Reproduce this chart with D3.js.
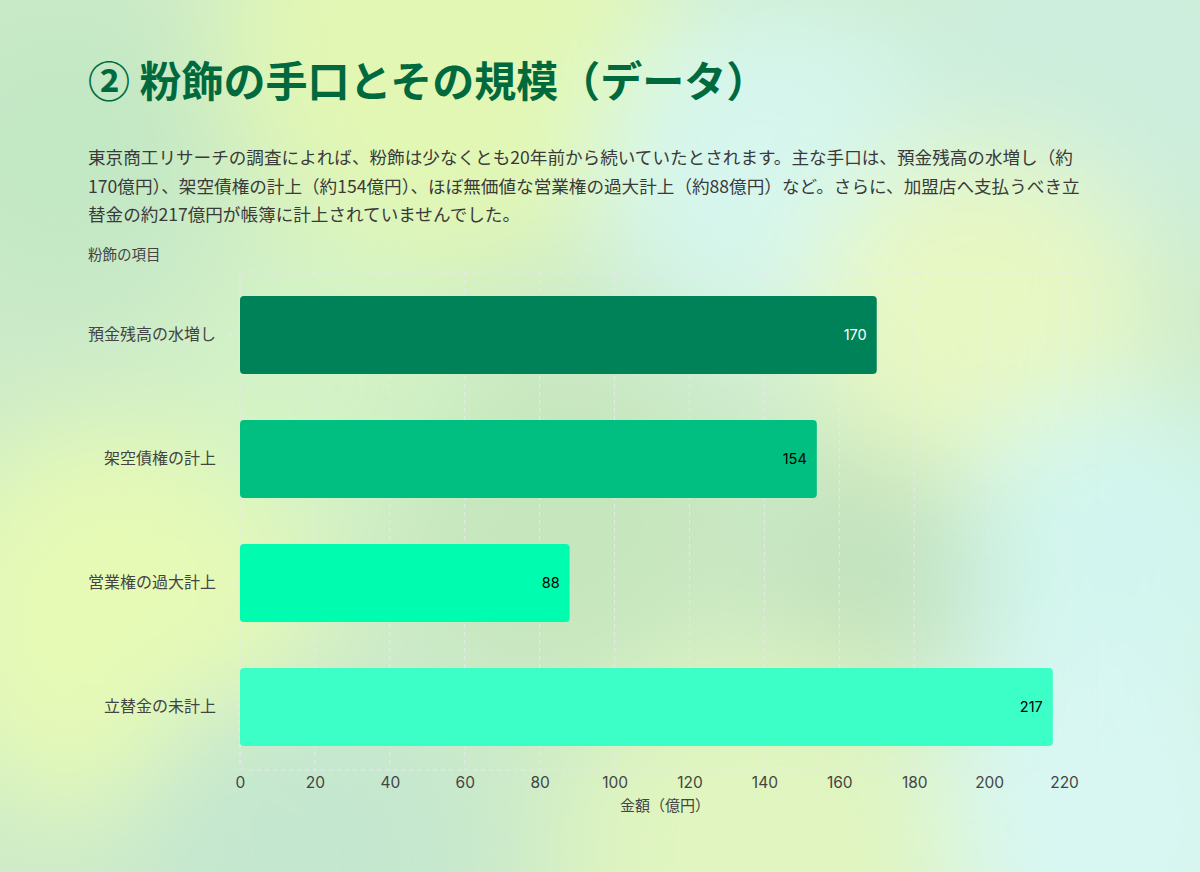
<!DOCTYPE html>
<html lang="ja">
<head>
<meta charset="utf-8">
<title>粉飾の手口とその規模</title>
<script src="https://cdn.jsdelivr.net/npm/d3@7"></script>
<style>
  html, body { margin: 0; padding: 0; }
  body { width: 1200px; height: 872px; overflow: hidden; background: #cdeccb; }
  svg { display: block; }
</style>
</head>
<body>
<div id="chart"></div>
<script>
// data
var categories = ['預金残高の水増し', '架空債権の計上', '営業権の過大計上', '立替金の未計上'];
var values = [170, 154, 88, 217];
var barColors = ['#008259', '#00bf80', '#00fcae', '#3bffc6'];
var labelColors = ['#ffffff', '#000000', '#000000', '#000000'];
var xTicks = [0, 20, 40, 60, 80, 100, 120, 140, 160, 180, 200, 220];

var title = '② 粉飾の手口とその規模（データ）';
var paragraph = [
    '東京商工リサーチの調査によれば、粉飾は少なくとも20年前から続いていたとされます。主な手口は、預金残高の水増し（約',
    '170億円）、架空債権の計上（約154億円）、ほぼ無価値な営業権の過大計上（約88億円）など。さらに、加盟店へ支払うべき立',
    '替金の約217億円が帳簿に計上されていませんでした。'
];
var yTitle = '粉飾の項目';
var xTitle = '金額（億円）';

var W = 1200, H = 872;
var plot = { left: 240, right: 1097, top: 272, bottom: 770 };
var sans = '"Noto Sans CJK JP", "Noto Sans", sans-serif';
var num = 'Inter, "Liberation Sans", sans-serif';

var svg = d3.select('#chart')
    .append('svg')
    .attr('width', W)
    .attr('height', H);

// soft blurred background
var defs = svg.append('defs');
defs.append('filter')
    .attr('id', 'blur')
    .attr('x', '-50%').attr('y', '-50%')
    .attr('width', '200%').attr('height', '200%')
    .append('feGaussianBlur')
    .attr('stdDeviation', 55);

var blobs = [
    { cx: 450, cy: 40, r: 230, c: '#e2f7b4' },
    { cx: 780, cy: 170, r: 180, c: '#d6f6ee' },
    { cx: 1100, cy: 80, r: 200, c: '#cdeedd' },
    { cx: 980, cy: 320, r: 170, c: '#e8f8c2' },
    { cx: 120, cy: 620, r: 200, c: '#e6fab6' },
    { cx: 330, cy: 380, r: 150, c: '#d3f3c6' },
    { cx: 560, cy: 520, r: 160, c: '#c6e6bd' },
    { cx: 1120, cy: 560, r: 170, c: '#d2f6ef' },
    { cx: 1100, cy: 820, r: 180, c: '#d8f7f3' },
    { cx: 760, cy: 850, r: 200, c: '#e0f5bf' },
    { cx: 300, cy: 860, r: 180, c: '#c4e7cf' },
    { cx: 60, cy: 150, r: 150, c: '#c3e8c4' },
    { cx: 870, cy: 560, r: 110, c: '#c2e2bd' }
];

svg.append('rect')
    .attr('width', W).attr('height', H)
    .attr('fill', '#cdebc9');

svg.append('g')
    .attr('filter', 'url(#blur)')
    .selectAll('circle')
    .data(blobs)
    .enter()
    .append('circle')
    .attr('cx', function(d) { return d.cx; })
    .attr('cy', function(d) { return d.cy; })
    .attr('r', function(d) { return d.r; })
    .attr('fill', function(d) { return d.c; });

// title + text
svg.append('text')
    .attr('x', 88)
    .attr('y', 97)
    .attr('font-family', sans)
    .attr('font-weight', 700)
    .attr('font-size', 42)
    .attr('fill', '#006a3e')
    .text(title);

svg.append('g')
    .selectAll('text')
    .data(paragraph)
    .enter()
    .append('text')
    .attr('x', 88)
    .attr('y', function(d, i) { return 164 + i * 28.5; })
    .attr('font-family', sans)
    .attr('font-size', 17.6)
    .attr('fill', '#3a3a3a')
    .text(function(d) { return d; });

svg.append('text')
    .attr('x', 88)
    .attr('y', 260)
    .attr('font-family', sans)
    .attr('font-size', 14.5)
    .attr('fill', '#444')
    .text(yTitle);

// scales
var x = d3.scaleLinear()
    .domain([0, 228.8])
    .range([plot.left, plot.right]);

var y = d3.scaleBand()
    .domain(categories)
    .range([plot.top, plot.bottom])
    .paddingInner(0.371)
    .paddingOuter(0.194);

var gridColor = 'rgba(232,232,238,0.95)';

// grid
svg.append('g')
    .selectAll('line')
    .data(xTicks)
    .enter()
    .append('line')
    .attr('x1', function(d) { return x(d); })
    .attr('x2', function(d) { return x(d); })
    .attr('y1', plot.top)
    .attr('y2', plot.bottom)
    .attr('stroke', gridColor)
    .attr('stroke-dasharray', '4,4');

svg.append('rect')
    .attr('x', plot.left)
    .attr('y', plot.top)
    .attr('width', plot.right - plot.left)
    .attr('height', plot.bottom - plot.top)
    .attr('rx', 8)
    .attr('fill', 'none')
    .attr('stroke', gridColor)
    .attr('stroke-dasharray', '4,4');

// y axis
var yAxis = d3.axisLeft(y).tickSize(18).tickPadding(6);
var gy = svg.append('g')
    .attr('transform', 'translate(' + plot.left + ',0)')
    .call(yAxis);
gy.select('.domain').remove();
gy.selectAll('.tick line')
    .attr('stroke', gridColor)
    .attr('stroke-dasharray', '4,4');
gy.selectAll('.tick text')
    .attr('font-family', sans)
    .attr('font-size', 16)
    .attr('fill', '#444');

// x axis
var xAxis = d3.axisBottom(x).tickValues(xTicks).tickSize(0).tickPadding(7);
var gx = svg.append('g')
    .attr('transform', 'translate(0,' + plot.bottom + ')')
    .call(xAxis);
gx.select('.domain').remove();
gx.selectAll('.tick text')
    .attr('font-family', num)
    .attr('font-size', 15.5)
    .attr('fill', '#444');

svg.append('text')
    .attr('x', (x(0) + x(220)) / 2 + 13)
    .attr('y', 811)
    .attr('text-anchor', 'middle')
    .attr('font-family', sans)
    .attr('font-size', 15)
    .attr('fill', '#444')
    .text(xTitle);

// bars
var rows = categories.map(function(c, i) {
    return { cat: c, value: values[i], color: barColors[i], label: labelColors[i] };
});

svg.append('g')
    .selectAll('rect')
    .data(rows)
    .enter()
    .append('rect')
    .attr('x', x(0))
    .attr('y', function(d) { return y(d.cat); })
    .attr('width', function(d) { return x(d.value) - x(0); })
    .attr('height', y.bandwidth())
    .attr('rx', 4)
    .attr('fill', function(d) { return d.color; });

svg.append('g')
    .selectAll('text')
    .data(rows)
    .enter()
    .append('text')
    .attr('x', function(d) { return x(d.value) - 10; })
    .attr('y', function(d) { return y(d.cat) + y.bandwidth() / 2; })
    .attr('dy', '0.35em')
    .attr('text-anchor', 'end')
    .attr('font-family', num)
    .attr('font-size', 14.5)
    .attr('fill', function(d) { return d.label; })
    .text(function(d) { return d.value; });
</script>
</body>
</html>
